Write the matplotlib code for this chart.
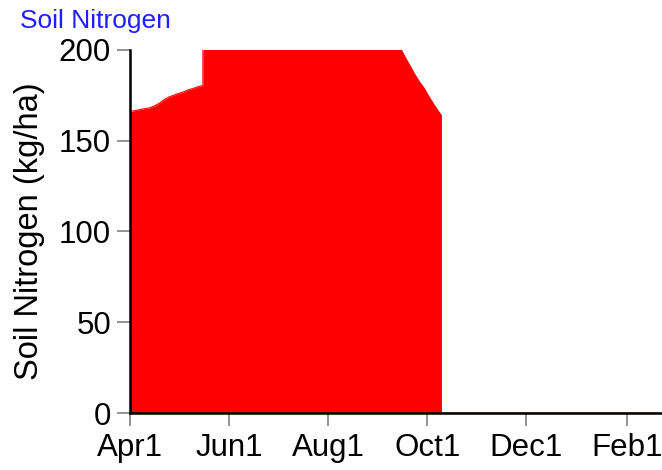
import matplotlib
matplotlib.use("Agg")
import matplotlib.pyplot as plt

plt.rcParams['font.family'] = ['Liberation Sans', 'DejaVu Sans']

# days after Apr 1 and soil nitrogen (kg/ha); values above 200 are cut off by the axis
days = [0, 3, 9, 12, 15, 18, 21, 24, 27, 30, 33, 36, 40, 43, 45,
        45, 60, 90, 120, 150, 162, 167, 170, 172, 175, 178, 181, 184, 187, 190, 191.6,
        191.6, 327]
nitrogen = [166, 166.5, 167.6, 168, 169, 170.5, 172.5, 174, 175, 176, 176.8, 178, 179, 180, 180.3,
            215, 225, 232, 230, 218, 206, 200, 195, 191.8, 187, 182.6, 179, 174.3, 170, 166, 164,
            0, 0]

tick_days = [0, 61, 122, 183, 244, 306]
tick_labels = ['Apr1', 'Jun1', 'Aug1', 'Oct1', 'Dec1', 'Feb1']
y_ticks = [0, 50, 100, 150, 200]

fig = plt.figure(figsize=(6.62, 4.70), dpi=100)
ax = fig.add_axes([0.196, 0.121, 0.803, 0.773])

ax.fill_between(days, 0, nitrogen, color='#ff0000', linewidth=0)
ax.plot(days, nitrogen, color='#ff0000', linewidth=0.8)

ax.set_xlim(0, 327)
ax.set_ylim(0, 200)
ax.set_xticks(tick_days)
ax.set_xticklabels(tick_labels)
ax.set_yticks(y_ticks)

for side in ['top', 'right']:
    ax.spines[side].set_visible(False)
for side in ['left', 'bottom']:
    ax.spines[side].set_linewidth(1.8)
    ax.spines[side].set_color('black')

ax.tick_params(axis='both', direction='out', length=9.5, width=1.2, color='#808080',
               labelsize=22.5, labelcolor='black', pad=4)
ax.tick_params(axis='x', pad=5)
ax.set_ylabel('Soil Nitrogen (kg/ha)', fontsize=23.5, labelpad=10)

fig.text(20 / 662, 1 - 9 / 470, 'Soil Nitrogen', color='#2020ff', fontsize=19,
         ha='left', va='top')

fig.savefig('out.png', dpi=100)
